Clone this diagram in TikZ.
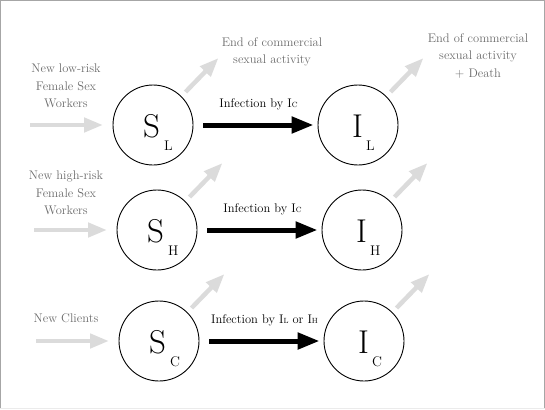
\documentclass[tikz,border=0pt]{standalone}
\usepackage{fontspec}
\usetikzlibrary{arrows.meta,calc}
\begin{document}
\begin{tikzpicture}[x=1pt,y=-1pt,
  state/.style={circle,draw,line width=0.9pt,minimum size=80pt,inner sep=0pt},
  bigl/.style={font=\fontsize{33}{33}\selectfont,inner sep=0pt,anchor=base west},
  subl/.style={font=\fontsize{14}{14}\selectfont,inner sep=0pt,anchor=base west},
  glabel/.style={text=black!58,font=\fontsize{12.5}{17.5}\selectfont,align=center},
  garrow/.style={draw=black!14,line width=4.5pt,-{Triangle[length=19pt,width=14pt]}},
  barrow/.style={draw=black,line width=5pt,-{Triangle[length=22pt,width=16pt]}},
  ilabel/.style={font=\fontsize{12.5}{15}\selectfont,inner sep=0pt}]
\useasboundingbox (0,0) rectangle (545,409);
\draw[black!35,line width=2pt] (0,409) -- (0,0) -- (545,0) -- (545,409);
\draw[black!8,line width=1pt] (0,408.5) -- (545,408.5);
\newcommand{\smallsub}[1]{{\fontsize{7.5}{7.5}\selectfont #1}}
% circles
\node[state] (SL) at (153,125) {};
\node[state] (IL) at (358,125) {};
\node[state] (SH) at (157,230) {};
\node[state] (IH) at (362,230) {};
\node[state] (SC) at (159,341) {};
\node[state] (IC) at (364,341) {};
% letters
\foreach \n/\l/\s in {SL/S/L,SH/S/H,SC/S/C}{
  \node[bigl] (\n t) at ($(\n)+(-10,12)$) {\l};
  \node[subl] (\n s) at ($(\n)+(11,25)$) {\s};
}
\foreach \n/\l/\s in {IL/I/L,IH/I/H,IC/I/C}{
  \node[bigl] (\n t) at ($(\n)+(-6,12)$) {\l};
  \node[subl] (\n s) at ($(\n)+(8,25)$) {\s};
}
% inflow
\foreach \n in {SL,SH,SC}{
  \coordinate (\n in) at ($(\n)+(-123,0)$);
  \coordinate (\n inb) at ($(\n)+(-50,0)$);
  \draw[garrow] (\n in) -- (\n inb);
}
% outflow
\foreach \n in {SL,IL,SH,IH,SC,IC}{
  \coordinate (\n o1) at ($(\n)+(32.5,-33)$);
  \coordinate (\n o2) at ($(\n)+(65.5,-67)$);
  \draw[garrow] (\n o1) -- (\n o2);
}
% infection arrows
\draw[barrow] ($(SL.east)+(10,0)$) -- node[ilabel,midway,yshift=21pt] (infL) {Infection by I\smallsub{C}} ($(IL.west)+(-4,0)$);
\draw[barrow] ($(SH.east)+(10,0)$) -- node[ilabel,midway,yshift=21pt] (infH) {Infection by I\smallsub{C}} ($(IH.west)+(-4,0)$);
\draw[barrow] ($(SC.east)+(10,0)$) -- node[ilabel,midway,yshift=21pt] (infC) {Infection by I\smallsub{L} or I\smallsub{H}} ($(IC.west)+(-4,0)$);
% labels
\node[glabel] (newL) at (66,86) {New low-risk\\Female Sex\\Workers};
\node[glabel] (newH) at (66,193) {New high-risk\\Female Sex\\Workers};
\node[glabel] (newC) at (66,318) {New Clients};
\node[glabel] (endS) at (272,52) {End of commercial\\sexual activity};
\node[glabel] (endI) at (478,56) {End of commercial\\sexual activity\\+ Death};
\end{tikzpicture}
\end{document}
